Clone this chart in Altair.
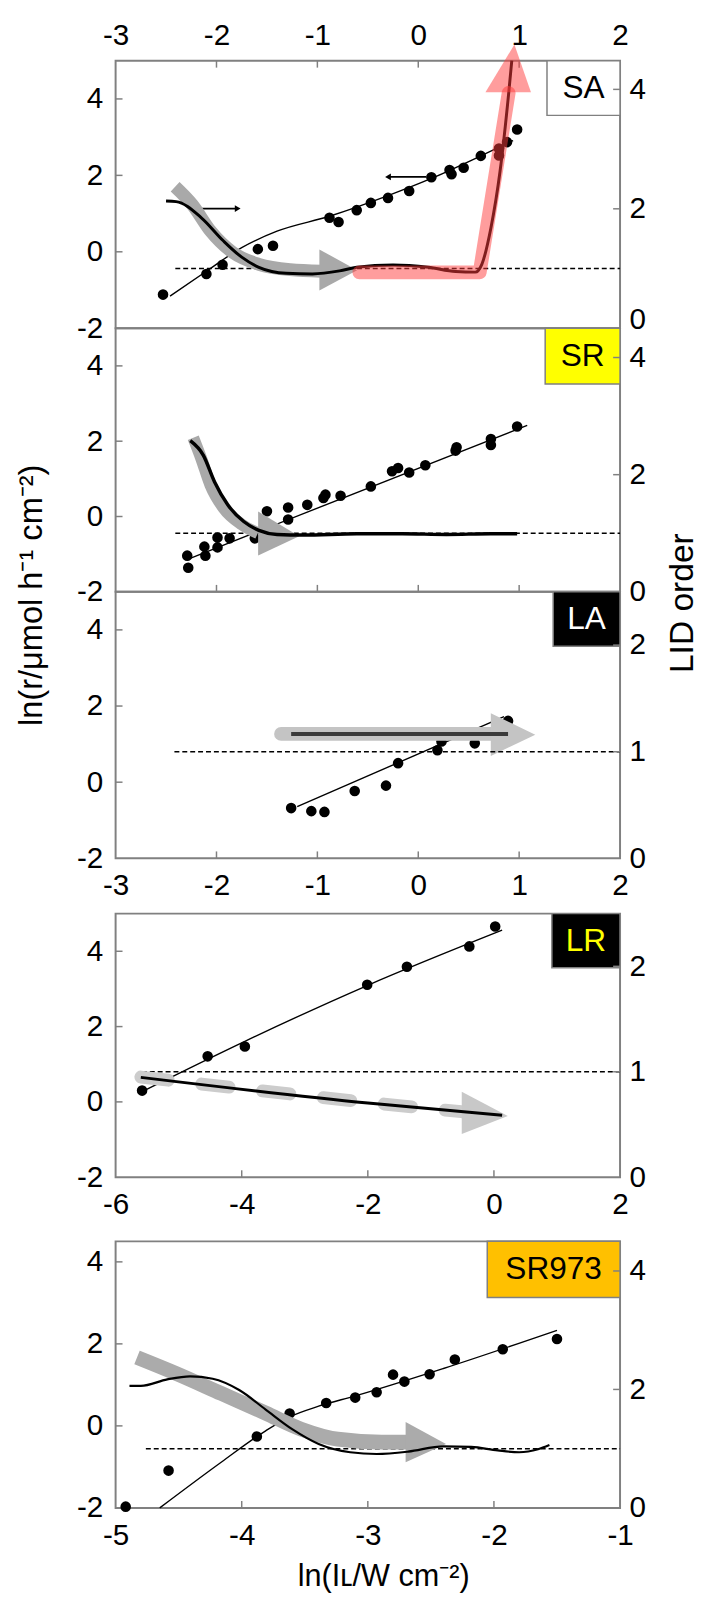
import altair as alt
import pandas as pd

FONT = "Liberation Sans"
FRAME = "#808080"
PW = 511

# ---------------- Panel SA ----------------
SA_PTS_X = [-2.53, -2.10, -1.94, -1.59, -1.44, -0.88, -0.79, -0.61, -0.47, -0.30, -0.09, 0.13, 0.31, 0.33, 0.45, 0.62, 0.80, 0.80, 0.88, 0.98]
SA_PTS_Y = [-1.12, -0.58, -0.34, 0.07, 0.16, 0.89, 0.78, 1.09, 1.28, 1.41, 1.59, 1.95, 2.14, 2.03, 2.20, 2.51, 2.70, 2.52, 2.87, 3.20]
SA_FIT_X = [-2.46, -2.10, -1.75, -1.40, -0.88, -0.30, 0.13, 0.62, 0.94]
SA_FIT_Y = [-1.16, -0.51, 0.11, 0.54, 0.93, 1.47, 1.92, 2.51, 2.91]
SA_LID_X = [-2.50, -2.40, -2.15, -1.93, -1.75, -1.58, -1.31, -1.05, -0.78, -0.61, -0.25, 0.10, 0.37, 0.565, 0.63, 0.72, 0.81, 0.90, 0.927]
SA_LID_Y = [2.13, 2.12, 1.85, 1.46, 1.19, 1.02, 0.92, 0.91, 0.96, 1.02, 1.06, 1.02, 0.95, 0.94, 1.07, 1.68, 2.62, 4.00, 4.48]
SA_GRAY_X = [-2.41, -2.24, -2.06, -1.84, -1.58, -1.27, -0.96]
SA_GRAY_Y = [2.37, 2.07, 1.63, 1.27, 1.07, 0.98, 0.955]
SA_HEAD = [-0.98, 1.32, 0.63, -0.606, 0.97]
SA_RED_X = [-0.584, 0.609, 0.896]
SA_RED_Y = [0.937, 0.937, 3.94]
SA_RED_HEAD = [3.95, 0.666, 1.117, 0.953, 4.75]
SA_BOX = [1.276, 2.0, 3.57, 5.0]

# ---------------- Panel SR ----------------
SR_PTS_X = [-2.28, -2.29, -2.11, -2.12, -1.99, -1.99, -1.87, -1.62, -1.50, -1.29, -1.29, -1.10, -0.94, -0.92, -0.77, -0.47, -0.26, -0.20, -0.09, 0.07, 0.37, 0.38, 0.72, 0.72, 0.98]
SR_PTS_Y = [-1.36, -1.04, -1.04, -0.80, -0.82, -0.56, -0.58, -0.58, 0.14, -0.08, 0.24, 0.31, 0.49, 0.58, 0.55, 0.80, 1.20, 1.29, 1.17, 1.36, 1.75, 1.84, 1.90, 2.06, 2.39]
SR_FIT_X = [-2.28, 1.08]
SR_FIT_Y = [-1.13, 2.42]
SR_LID_X = [-2.26, -2.13, -2.02, -1.89, -1.73, -1.58, -1.40, -1.14, -0.61, -0.16, 0.28, 0.72, 0.98]
SR_LID_Y = [2.58, 2.33, 1.88, 1.49, 1.20, 1.05, 0.98, 0.97, 0.99, 0.99, 0.98, 0.99, 0.99]
SR_GRAY_X = [-2.23, -2.15, -2.06, -1.93, -1.75, -1.59]
SR_GRAY_Y = [2.63, 2.27, 1.82, 1.43, 1.15, 1.00]
SR_HEAD = [-1.587, 1.37, 0.62, -1.18, 0.95]
SR_BOX = [1.258, 2.0, 3.52, 5.0]

# ---------------- Panel LA ----------------
LA_PTS_X = [-1.26, -1.06, -0.93, -0.63, -0.32, -0.20, 0.19, 0.23, 0.56, 0.89]
LA_PTS_Y = [-0.68, -0.76, -0.78, -0.23, -0.09, 0.50, 0.84, 1.07, 1.02, 1.61]
LA_FIT_X = [-1.20, 0.85]
LA_FIT_Y = [-0.64, 1.72]
LA_LID_X = [-1.26, 0.89]
LA_LID_Y = [1.167, 1.167]
LA_GRAY_X = [-1.36, 0.72]
LA_GRAY_Y = [1.167, 1.167]
LA_HEAD = [0.719, 1.36, 0.96, 1.16, 1.16]
LA_BOX = [1.337, 2.0, 3.57, 5.0]

# ---------------- Panel LR ----------------
LR_PTS_X = [-5.58, -4.54, -3.95, -2.01, -1.38, -0.39, 0.02]
LR_PTS_Y = [0.30, 1.21, 1.47, 3.11, 3.59, 4.13, 4.66]
LR_FIT_X = [-5.58, -3.95, -2.01, 0.13]
LR_FIT_Y = [0.275, 1.61, 3.09, 4.56]
LR_LID_X = [-5.60, -2.00, 0.13]
LR_LID_Y = [0.947, 0.703, 0.588]
LR_GRAY_X = [-5.60, -2.00, -0.50]
LR_GRAY_Y = [0.95, 0.71, 0.62]
LR_HEAD = [-0.51, 0.81, 0.41, 0.22, 0.58]
LR_BOX = [0.919, 2.0, 3.56, 5.0]

# ---------------- Panel SR973 ----------------
S9_PTS_X = [-4.92, -4.58, -3.88, -3.62, -3.33, -3.10, -2.93, -2.80, -2.71, -2.51, -2.31, -1.93, -1.50]
S9_PTS_Y = [-1.97, -1.09, -0.26, 0.30, 0.56, 0.69, 0.82, 1.25, 1.08, 1.26, 1.62, 1.87, 2.12]
S9_FIT_X = [-4.65, -4.16, -3.81, -3.62, -3.39, -3.10, -2.40, -1.50]
S9_FIT_Y = [-2.00, -0.88, -0.12, 0.22, 0.48, 0.73, 1.40, 2.33]
S9_LID_X = [-4.89, -4.80, -4.59, -4.41, -4.23, -4.02, -3.81, -3.60, -3.39, -3.14, -2.93, -2.68, -2.40, -2.18, -1.97, -1.80, -1.65, -1.56]
S9_LID_Y = [2.06, 2.06, 2.17, 2.22, 2.18, 1.99, 1.66, 1.33, 1.08, 0.94, 0.91, 0.95, 1.04, 1.03, 0.97, 0.94, 0.99, 1.06]
S9_GRAY_X = [-4.83, -4.52, -4.16, -3.81, -3.53, -3.24, -2.89, -2.68]
S9_GRAY_Y = [2.54, 2.27, 1.93, 1.60, 1.33, 1.16, 1.11, 1.11]
S9_HEAD = [-2.70, 1.45, 0.77, -2.38, 1.08]
S9_BOX = [-2.053, -1.0, 3.13, 4.5]

LID_REF = 1.0
LABEL_FS = 30
HYPHEN = "replace(datum.label, '\u2212', '-')"


class Enc:
    def __init__(self, k, xdom, ydom, rdom, xaxis, yaxis, raxis):
        self.k = k
        self.xs = alt.Scale(domain=xdom, nice=False, zero=False)
        self.ys = alt.Scale(domain=ydom, nice=False, zero=False)
        self.rs = alt.Scale(domain=rdom, nice=False, zero=False)
        self.xaxis, self.yaxis, self.raxis = xaxis, yaxis, raxis

    def x(self):
        return alt.X(f"x{self.k}:Q", scale=self.xs, axis=self.xaxis)

    def y(self):
        return alt.Y(f"y{self.k}:Q", scale=self.ys, axis=self.yaxis)

    def r(self):
        return alt.Y(f"r{self.k}:Q", scale=self.rs, axis=self.raxis)

    def d(self, **cols):
        out = {}
        n = None
        for key, v in cols.items():
            name = f"{key}{self.k}" if key in ("x", "y", "r") else key
            out[name] = list(v)
            n = len(v)
        out["i"] = list(range(n))
        return pd.DataFrame(out)


def points(e, xs, ys):
    return alt.Chart(e.d(x=xs, y=ys)).mark_circle(size=115, color="black", opacity=1).encode(x=e.x(), y=e.y())


def fitline(e, xs, ys):
    return alt.Chart(e.d(x=xs, y=ys)).mark_line(color="black", strokeWidth=1.4, interpolate="monotone").encode(
        x=e.x(), y=e.y(), order="i:Q")


def rline(e, xs, ys, **kw):
    return alt.Chart(e.d(x=xs, r=ys)).mark_line(**kw).encode(x=e.x(), y=e.r(), order="i:Q")


def rhead(e, h, color, opacity=1.0):
    bx, b1, b2, tx, ty = h
    data = e.d(x=[bx, tx], r=[b1, ty], r2c=[b2, ty])
    return alt.Chart(data).mark_area(color=color, opacity=opacity, interpolate="linear").encode(
        x=e.x(), y=e.r(), y2=alt.Y2("r2c"))


def dashed(e, x1, x2):
    data = e.d(x=[x1], x2c=[x2], r=[LID_REF])
    return alt.Chart(data).mark_rule(color="black", strokeWidth=1.5, strokeDash=[5, 3]).encode(
        x=e.x(), x2=alt.X2("x2c"), y=e.r())


def box(e, b, fill, text, tcolor):
    x1, x2, y1, y2 = b
    rect = alt.Chart(e.d(x=[x1], x2c=[x2], y=[y1], y2c=[y2])).mark_rect(
        fill=fill, stroke=FRAME, strokeWidth=1.5).encode(x=e.x(), x2=alt.X2("x2c"), y=e.y(), y2=alt.Y2("y2c"))
    txt = alt.Chart(e.d(x=[(x1 + x2) / 2], y=[(y1 + y2) / 2])).mark_text(
        text=text, font=FONT, fontSize=32, color=tcolor, align="center", baseline="middle").encode(x=e.x(), y=e.y())
    return [rect, txt]


def lticks(e, vals):
    return alt.Chart(e.d(y=vals)).mark_rule(color=FRAME, strokeWidth=1.5).encode(
        y=e.y(), x=alt.value(0), x2=alt.value(7))


def rticks(e, vals):
    return alt.Chart(e.d(r=vals)).mark_rule(color=FRAME, strokeWidth=1.5).encode(
        y=e.r(), x=alt.value(PW - 7), x2=alt.value(PW))


def xticks(e, vals, h, top=False):
    y0, y1 = (0, 7) if top else (h - 7, h)
    return alt.Chart(e.d(x=vals)).mark_rule(color=FRAME, strokeWidth=1.5).encode(
        x=e.x(), y=alt.value(y0), y2=alt.value(y1))


def panel(e, h, left, right):
    return alt.layer(alt.layer(*left), alt.layer(*right)).resolve_scale(y="independent").properties(
        width=PW, height=h)


def yax(vals, **kw):
    return alt.Axis(values=vals, orient="left", labelPadding=13, labelExpr=HYPHEN, title=kw.pop("title", None), **kw)


def rax(vals, **kw):
    return alt.Axis(values=vals, orient="right", labelPadding=9, labelExpr=HYPHEN, title=kw.pop("title", None), **kw)


def xax(vals, orient, pad, **kw):
    return alt.Axis(values=vals, orient=orient, labelPadding=pad, labelExpr=HYPHEN,
                    title=kw.pop("title", None), **kw)


def spacer(name, h):
    return alt.Chart(pd.DataFrame({name: [0]})).mark_point(opacity=0).encode(
        x=alt.X(f"{name}:Q", axis=None), y=alt.Y(f"{name}:Q", axis=None)
    ).properties(width=PW, height=h, view=alt.ViewBackground(stroke="transparent"))


# ---------- Panel 1 : SA ----------
H1 = 271
e1 = Enc(1, [-3, 2], [-2, 5], [0, 4.48],
         xax([-3, -2, -1, 0, 1, 2], "top", 10),
         yax([-2, 0, 2, 4]),
         rax([0, 2, 4], labelBaseline={"condition": {"test": "datum.value === 0", "value": "alphabetic"},
                                       "value": "middle"}))
arrow_r = alt.Chart(e1.d(x=[-2.174], x2c=[-1.80], y=[1.13])).mark_rule(color="black", strokeWidth=1.8).encode(
    x=e1.x(), x2=alt.X2("x2c"), y=e1.y())
arrow_r_head = alt.Chart(e1.d(x=[-1.79], y=[1.13])).mark_point(shape="triangle-right", filled=True, color="black",
                                                               size=45, opacity=1).encode(x=e1.x(), y=e1.y())
arrow_l = alt.Chart(e1.d(x=[0.079], x2c=[-0.29], y=[1.96])).mark_rule(color="black", strokeWidth=1.8).encode(
    x=e1.x(), x2=alt.X2("x2c"), y=e1.y())
arrow_l_head = alt.Chart(e1.d(x=[-0.30], y=[1.96])).mark_point(shape="triangle-left", filled=True, color="black",
                                                               size=45, opacity=1).encode(x=e1.x(), y=e1.y())
p1 = panel(e1, H1,
           box(e1, SA_BOX, "white", "SA", "black") + [
               fitline(e1, SA_FIT_X, SA_FIT_Y), points(e1, SA_PTS_X, SA_PTS_Y),
               arrow_r, arrow_r_head, arrow_l, arrow_l_head,
               lticks(e1, [0, 2, 4]), xticks(e1, [-2, -1, 0, 1], H1, top=True)],
           [dashed(e1, -2.408, 2.0),
            rline(e1, SA_GRAY_X, SA_GRAY_Y, color="#a9a9a9", strokeWidth=13, interpolate="monotone", strokeCap="butt"),
            rhead(e1, SA_HEAD, "#a9a9a9"),
            rline(e1, SA_LID_X, SA_LID_Y, color="black", strokeWidth=3, interpolate="monotone"),
            rline(e1, SA_RED_X, SA_RED_Y, color="#ff3b3b", opacity=0.5, strokeWidth=14, strokeCap="round",
                  strokeJoin="round"),
            alt.Chart(e1.d(r=[SA_RED_HEAD[0], SA_RED_HEAD[4]], x=[SA_RED_HEAD[1], SA_RED_HEAD[3]],
                           x2c=[SA_RED_HEAD[2], SA_RED_HEAD[3]])).mark_area(
                color="#ff3b3b", opacity=0.5, orient="horizontal").encode(y=e1.r(), x=e1.x(), x2=alt.X2("x2c")),
            rticks(e1, [2, 4])])

# ---------- Panel 2 : SR ----------
H2 = 267
e2 = Enc(2, [-3, 2], [-2, 5], [0, 4.5], None,
         yax([-2, 0, 2, 4], title="ln(r/μmol h⁻¹ cm⁻²)", titleAngle=270, titleX=-85, titleY=270,
             titleAlign="center", titleBaseline="middle", titleFontSize=33),
         rax([0, 2, 4], title="LID order", titleAngle=270, titleX=63, titleY=278,
             titleAlign="center", titleBaseline="middle", titleFontSize=34))
p2 = panel(e2, H2,
           box(e2, SR_BOX, "#ffff00", "SR", "black") + [
               fitline(e2, SR_FIT_X, SR_FIT_Y), points(e2, SR_PTS_X, SR_PTS_Y),
               lticks(e2, [0, 2, 4]), xticks(e2, [-2, -1, 0, 1], H2)],
           [dashed(e2, -2.408, 2.0),
            rline(e2, SR_GRAY_X, SR_GRAY_Y, color="#a9a9a9", strokeWidth=12, interpolate="monotone", strokeCap="butt"),
            rhead(e2, SR_HEAD, "#a9a9a9"),
            rline(e2, SR_LID_X, SR_LID_Y, color="black", strokeWidth=3.5, interpolate="monotone"),
            rticks(e2, [2, 4])])

# ---------- Panel 3 : LA ----------
H3 = 270
e3 = Enc(3, [-3, 2], [-2, 5], [0, 2.5],
         xax([-3, -2, -1, 0, 1, 2], "bottom", 13),
         yax([-2, 0, 2, 4]), rax([0, 1, 2]))
p3 = panel(e3, H3,
           box(e3, LA_BOX, "black", "LA", "white") + [
               fitline(e3, LA_FIT_X, LA_FIT_Y), points(e3, LA_PTS_X, LA_PTS_Y),
               lticks(e3, [0, 2, 4]), xticks(e3, [-2, -1, 0, 1], H3)],
           [rline(e3, LA_GRAY_X, LA_GRAY_Y, color="#c4c4c4", strokeWidth=14, strokeCap="round"),
            rhead(e3, LA_HEAD, "#c4c4c4"),
            dashed(e3, -2.417, 2.0),
            rline(e3, LA_LID_X, LA_LID_Y, color="#3a3a3a", strokeWidth=4),
            rticks(e3, [1, 2])])

# ---------- Panel 4 : LR ----------
H4 = 267
e4 = Enc(4, [-6, 2], [-2, 5], [0, 2.5],
         xax([-6, -4, -2, 0, 2], "bottom", 13),
         yax([-2, 0, 2, 4]), rax([0, 1, 2]))
p4 = panel(e4, H4,
           box(e4, LR_BOX, "black", "LR", "#ffff00") + [
               fitline(e4, LR_FIT_X, LR_FIT_Y), points(e4, LR_PTS_X, LR_PTS_Y),
               lticks(e4, [0, 2, 4]), xticks(e4, [-4, -2, 0], H4)],
           [dashed(e4, -5.583, 2.0),
            rline(e4, LR_GRAY_X, LR_GRAY_Y, color="#cccccc", strokeWidth=13, interpolate="monotone",
                  strokeCap="round", strokeDash=[28, 34]),
            rhead(e4, LR_HEAD, "#c8c8c8"),
            rline(e4, LR_LID_X, LR_LID_Y, color="black", strokeWidth=3, interpolate="monotone"),
            rticks(e4, [1, 2])])

# ---------- Panel 5 : SR973 ----------
H5 = 270
e5 = Enc(5, [-5, -1], [-2, 4.5], [0, 4.5],
         xax([-5, -4, -3, -2, -1], "bottom", 13,
             title="ln(Iʟ/W cm⁻²)", titleFontSize=31, titlePadding=12, titleX=271, titleAlign="center"),
         yax([-2, 0, 2, 4]), rax([0, 2, 4]))
p5 = panel(e5, H5,
           box(e5, S9_BOX, "#ffc000", "SR973", "black") + [
               fitline(e5, S9_FIT_X, S9_FIT_Y), points(e5, S9_PTS_X, S9_PTS_Y),
               lticks(e5, [0, 2, 4]), xticks(e5, [-4, -3, -2], H5)],
           [dashed(e5, -4.76, -1.0),
            rline(e5, S9_GRAY_X, S9_GRAY_Y, color="#ababab", strokeWidth=15, interpolate="monotone", strokeCap="butt"),
            rhead(e5, S9_HEAD, "#ababab"),
            rline(e5, S9_LID_X, S9_LID_Y, color="black", strokeWidth=2.2, interpolate="monotone"),
            rticks(e5, [2, 4])])

chart = alt.vconcat(p1, p2, p3, spacer("s1", 56), p4, spacer("s2", 65), p5,
                    spacing=0, bounds="flush").properties(
    padding={"left": 7, "top": 2, "right": 0, "bottom": 5}
).configure_view(stroke=FRAME, strokeWidth=2).configure_axis(
    labelFont=FONT, labelFontSize=LABEL_FS, labelColor="black", ticks=False, domain=False, grid=False,
    labelFlush=False, labelOverlap=False, titleFont=FONT, titleColor="black", titleFontWeight="normal"
)

chart.save("out.html", embed_options={"renderer": "svg", "actions": False})
